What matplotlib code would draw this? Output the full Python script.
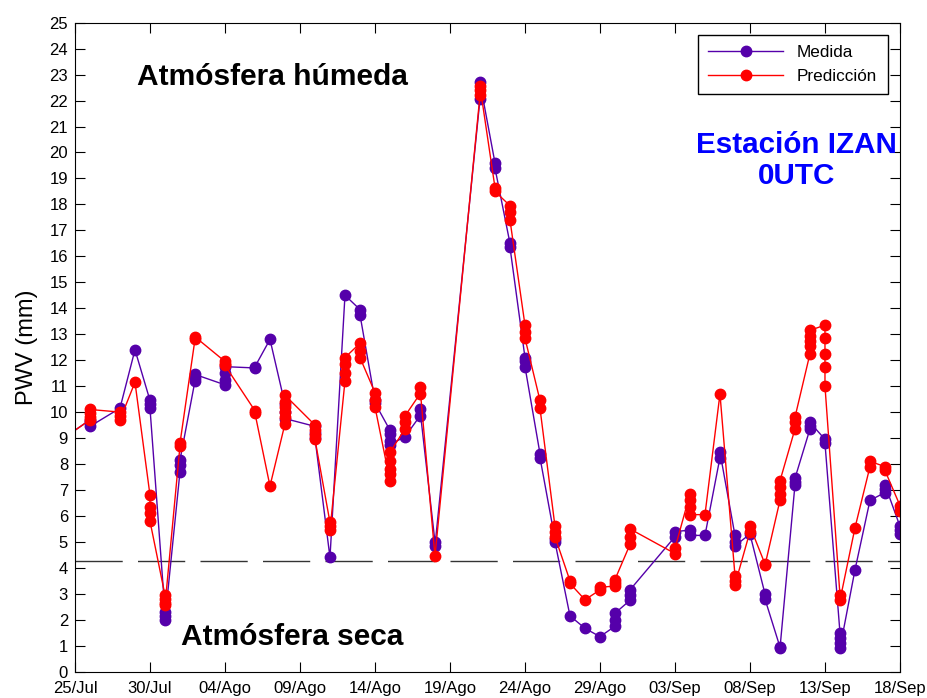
import matplotlib
matplotlib.use('Agg')
import matplotlib.pyplot as plt

plt.rcParams['font.family'] = ['Liberation Sans', 'DejaVu Sans']

# dias desde el 25/Jul; cada dia puede tener varias observaciones
dias_medida = [-1, 1, 3, 4, 5, 6, 7, 8, 10, 12, 13, 14, 16, 17, 18, 19, 20, 21, 22, 23, 24,
               27, 28, 29, 30, 31, 32, 33, 34, 35, 36, 37, 40, 41, 42, 43, 44, 45, 46, 47,
               48, 49, 50, 51, 52, 53, 54, 55]
pwv_medida = [[8.9], [9.7, 9.6, 9.45], [10.15], [12.4], [10.45, 10.3, 10.15], [2.3, 2.15, 2.0],
              [7.7, 7.95, 8.15], [11.2, 11.3, 11.45], [11.05, 11.25, 11.5, 11.75], [11.7, 11.75],
              [12.8], [10.3, 10.0, 9.75], [9.45, 9.2, 9.0], [4.4], [14.5], [13.95, 13.75],
              [10.45, 10.35], [9.3, 9.15, 8.9, 8.75], [9.05], [9.85, 10.1], [5.0, 4.85],
              [22.05, 22.7], [19.6, 19.4], [16.5, 16.35], [12.1, 11.95, 11.75], [8.4, 8.25],
              [5.1, 5.0], [2.15], [1.67], [1.35], [1.75, 2.0, 2.25], [2.75, 2.95, 3.15],
              [5.2, 5.4], [5.45, 5.25], [5.25], [8.25, 8.45], [5.25, 5.0, 4.85], [5.3],
              [3.0, 2.8], [0.95, 0.9], [7.2, 7.3, 7.45], [9.35, 9.45, 9.6], [8.95, 8.8],
              [1.5, 1.3, 1.1, 0.9], [3.92], [6.6], [6.9, 7.05, 7.2], [5.6, 5.45, 5.3]]

dias_pred = [-1, 1, 3, 4, 5, 6, 7, 8, 10, 12, 13, 14, 16, 17, 18, 19, 20, 21, 22, 23, 24,
             27, 28, 29, 30, 31, 32, 33, 34, 35, 36, 37, 40, 41, 42, 43, 44, 45, 46, 47,
             48, 49, 50, 51, 52, 53, 54, 55]
pwv_pred = [[8.9], [9.7, 9.8, 9.95, 10.1], [10.0, 9.85, 9.7], [11.15], [6.8, 6.35, 6.1, 5.8],
            [2.95, 2.8, 2.65, 2.55], [8.7, 8.8], [12.8, 12.9], [11.95, 11.85, 11.8],
            [10.05, 9.95], [7.15], [9.55, 9.8, 10.0, 10.2, 10.4, 10.65], [9.5, 9.3, 9.1, 8.95],
            [5.75, 5.6, 5.45], [11.2, 11.5, 11.85, 12.1], [12.65, 12.35, 12.1],
            [10.75, 10.45, 10.2], [7.35, 7.6, 7.8, 8.1, 8.45], [9.35, 9.6, 9.85], [10.7, 10.95],
            [4.45], [22.2, 22.4, 22.55], [18.65, 18.5], [17.95, 17.7, 17.4], [13.35, 13.1, 12.85],
            [10.45, 10.15], [5.6, 5.4, 5.2], [3.5, 3.4], [2.77], [3.15, 3.25], [3.3, 3.4, 3.55],
            [4.9, 5.2, 5.5], [4.55, 4.75], [6.85, 6.6, 6.35, 6.05], [6.05], [10.7],
            [3.7, 3.5, 3.35], [5.4, 5.6], [4.15, 4.1], [6.6, 6.85, 7.1, 7.35], [9.35, 9.6, 9.8],
            [12.25, 12.55, 12.75, 12.95, 13.15], [13.35, 12.85, 12.25, 11.75, 11.0],
            [2.95, 2.75], [5.54], [7.9, 8.1], [7.9, 7.75], [6.4, 6.2]]

etiquetas_x = ['25/Jul', '30/Jul', '04/Ago', '09/Ago', '14/Ago', '19/Ago', '24/Ago',
               '29/Ago', '03/Sep', '08/Sep', '13/Sep', '18/Sep']
umbral_seco = 4.25


def aplanar(dias, valores):
    xs, ys = [], []
    for d, vals in zip(dias, valores):
        for v in vals:
            xs.append(d)
            ys.append(v)
    return xs, ys


xm, ym = aplanar(dias_medida, pwv_medida)
xp, yp = aplanar(dias_pred, pwv_pred)

fig = plt.figure(figsize=(9.28, 6.98), dpi=100)
ax = fig.add_axes([0.0808, 0.0377, 0.889, 0.9298])

ax.axhline(umbral_seco, color='#333333', lw=1, dashes=(34, 11))
ax.plot(xm, ym, '-o', color='#5500AA', lw=1, ms=7.5, label='Medida')
ax.plot(xp, yp, '-o', color='#FF0000', lw=1, ms=7.5, label='Predicción')

ax.set_xlim(0, 55)
ax.set_ylim(0, 25)
ax.set_xticks(range(0, 56, 5))
ax.set_xticklabels(etiquetas_x)
ax.set_yticks(range(0, 26))
ax.tick_params(direction='in', length=7, top=True, right=True, labelsize=12, width=0.8)
ax.tick_params(axis='x', pad=7)
ax.tick_params(axis='y', pad=5)
ax.set_ylabel('PWV (mm)', fontsize=17, labelpad=8)

ax.text(13.17, 22.9, 'Atmósfera húmeda', fontsize=21.5, fontweight='bold', ha='center', va='center')
ax.text(14.5, 1.34, 'Atmósfera seca', fontsize=21.5, fontweight='bold', ha='center', va='center')
ax.text(48.1, 19.7, 'Estación IZAN\n0UTC', fontsize=21.3, fontweight='bold', color='#0000FF',
        ha='center', va='center', linespacing=1.15)

leg = ax.legend(loc='upper right', bbox_to_anchor=(0.985, 0.981), fontsize=12.3, handlelength=4.4,
                numpoints=1, fancybox=False, edgecolor='black', framealpha=1, borderpad=0.6,
                borderaxespad=0)
leg.get_frame().set_linewidth(1)

fig.savefig('out.png', dpi=100)
